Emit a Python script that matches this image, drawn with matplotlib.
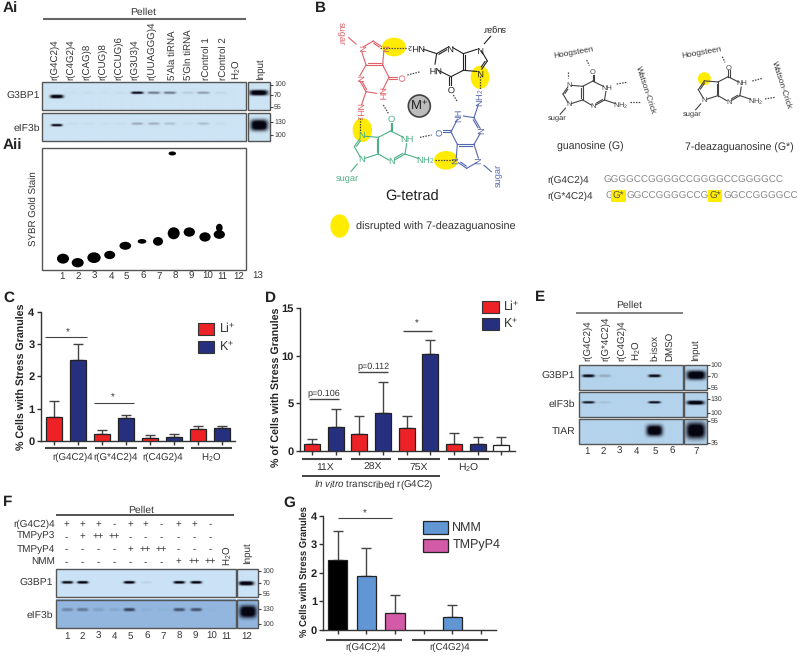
import numpy as np
import matplotlib
matplotlib.use("Agg")
import matplotlib.pyplot as plt
from matplotlib.patches import Ellipse, Rectangle

plt.rcParams['font.family'] = ['Liberation Sans', 'DejaVu Sans']
plt.rcParams['mathtext.fontset'] = 'custom'
plt.rcParams['mathtext.rm'] = 'Liberation Sans'
plt.rcParams['mathtext.it'] = 'Liberation Sans:italic'
plt.rcParams['mathtext.bf'] = 'Liberation Sans:bold'
plt.rcParams['mathtext.default'] = 'regular'
plt.rcParams['text.hinting'] = 'none'

# ---------- data ----------
c_groups = ['r(G4C2)4', 'r(G*4C2)4', 'r(C4G2)4', 'H$_2$O']
c_li = [0.75, 0.22, 0.07, 0.37]
c_li_top = [1.23, 0.33, 0.18, 0.45]
c_k = [2.5, 0.7, 0.12, 0.40]
c_k_top = [3.0, 0.80, 0.20, 0.46]

d_groups = ['11X', '28X', '75X', 'H$_2$O']
d_li = [0.75, 1.8, 2.4, 0.7]
d_li_top = [1.2, 3.7, 3.65, 1.9]
d_k = [2.5, 4.0, 10.2, 0.75]
d_k_top = [4.4, 7.2, 11.6, 1.4]
d_extra = 0.55
d_extra_top = 1.4

g_groups = ['r(G4C2)4', 'r(C4G2)4']
g_vals = [2.45, 1.9, 0.6, 0, 0.45, 0]
g_tops = [3.48, 2.88, 1.23, 0, 0.85, 0]

ai_labels = ['r(G4C2)4', 'r(C4G2)4', 'r(CAG)8', 'r(CUG)8', 'r(CCUG)6', 'r(G3U3)4',
             'r(UUAGGG)4', "5'Ala tiRNA", "5'Gln tiRNA", 'rControl 1', 'rControl 2', 'H$_2$O', 'Input']
ai_g3bp1 = [1.0, .02, .03, .02, .03, .95, .45, .45, .1, .3, .05, 0]
ai_eif3b = [.95, .03, .03, .02, .03, .25, .22, .15, .03, .16, .03, 0]
aii_main = [.905, .938, .897, .875, .80, .764, .764, .698, .688, .728, .708]
aii_upper_lane8 = .047
aii_upper_lane11 = .653
e_labels = ['r(G4C2)4', 'r(G*4C2)4', 'r(C4G2)4', 'H$_2$O', 'b-isox', 'DMSO', 'Input']
e_g3bp1 = [.95, .18, 0, 0, .95, 0]
e_eif3b = [.9, .08, 0, 0, .95, 0]
e_tiar = [0, 0, 0, 0, 1, 0]
f_rows = ['r(G4C2)4', 'TMPyP3', 'TMPyP4', 'NMM']
f_signs = [['+', '+', '+', '-', '+', '+', '-', '+', '+', '-'],
           ['-', '+', '++', '++', '-', '-', '-', '-', '-', '-'],
           ['-', '-', '-', '-', '+', '++', '++', '-', '-', '-'],
           ['-', '-', '-', '-', '-', '-', '-', '+', '++', '++']]
f_g3bp1 = [.95, 1, 0, 0, 1, .06, 0, 1, 1, 0, 0]
f_eif3b = [.25, .33, .12, .08, .6, .04, .03, .52, .52, .02, 0]

RED, NAVY = '#ec2227', '#27307f'
NMM_C, TMP_C = '#5f96d3', '#d25aa6'
TXT = '#333333'
LINE = '#444444'
YEL = '#ffec00'

fig = plt.figure(figsize=(8, 6.57), dpi=100)
W, H = 800, 657
ov = fig.add_axes([0, 0, 1, 1])
ov.set_xlim(0, W); ov.set_ylim(H, 0); ov.axis('off')


def T(x, y, s, size=7, **kw):
    kw.setdefault('ha', 'center'); kw.setdefault('va', 'center'); kw.setdefault('color', TXT)
    return ov.text(x, y, s, fontsize=size, **kw)


def fit_vertical(x, y0, y1, s):
    t = T(x, (y0 + y1) / 2, s, size=8, rotation=90, weight='bold', color='#222222')
    ext = t.get_window_extent(fig.canvas.get_renderer())
    t.set_fontsize(8 * (y1 - y0) / ext.height)


def L(x0, x1, y0, y1=None, lw=1.0, color=LINE, **kw):
    ov.plot([x0, x1], [y0, y0 if y1 is None else y1], color=color, lw=lw, solid_capstyle='butt', **kw)


def gel(x0, x1, y0, y1, bg, bands):
    nx, ny = int((x1 - x0) * 4), int((y1 - y0) * 4)
    xs = np.linspace(x0, x1, nx)[None, :]
    ys = np.linspace(y0, y1, ny)[:, None]
    keep = np.ones((ny, nx))
    for cx, cy, w, h, s in bands:
        g = np.exp(-(np.abs(xs - cx) / (w / 2)) ** 4.0 - (np.abs(ys - cy) / (h / 2)) ** 3.0)
        keep *= 1 - min(s, 1) * np.clip(g * 1.25, 0, 1)
    bgc = np.array(matplotlib.colors.to_rgb(bg))
    img = keep[..., None] * bgc + (1 - keep[..., None]) * np.array([.02, .02, .07])
    ov.imshow(img, extent=(x0, x1, y1, y0), aspect='auto', interpolation='bilinear', zorder=1)
    ov.add_patch(Rectangle((x0, y0), x1 - x0, y1 - y0, fill=False, ec='#555555', lw=1.0, zorder=2))


def ladder(x, items, size=5):
    for y, s in items:
        L(x, x + 3, y, lw=.8, zorder=3)
        T(x + 4, y, s, size=size, ha='left')


def px_axes(left, right, top, bottom):
    ax = fig.add_axes([left / W, 1 - bottom / H, (right - left) / W, (bottom - top) / H])
    ax.patch.set_alpha(0)
    for s in ('top', 'right'):
        ax.spines[s].set_visible(False)
    for s in ('left', 'bottom'):
        ax.spines[s].set_color('#333333'); ax.spines[s].set_linewidth(1.0)
    ax.tick_params(length=3, width=1, color='#333333', labelsize=8, labelcolor='#222222', pad=1.5)
    return ax


def bars(ax, xs, vals, tops, cols, width):
    for x, v, t, c in zip(xs, vals, tops, cols):
        if t <= 0:
            continue
        ax.bar(x, v, width=width, color=c, edgecolor='#222222', lw=.9, zorder=3)
        ax.errorbar(x, v, yerr=[[0], [t - v]], color='#444444', capsize=3.5, lw=1.0, capthick=1.0, zorder=2)


# ---------- panel letters ----------
for x, y, s in [(3, 8, 'Ai'), (3, 145, 'Aii'), (315, 8, 'B'), (3, 298, 'C'), (265, 298, 'D'),
                (535, 297, 'E'), (3, 502, 'F'), (283, 503, 'G')]:
    T(x, y, s, size=11, ha='left', weight='bold', color='#222222')

# ---------- panel Ai / Aii ----------
BG_A = '#cde4f5'
T(143.5, 12.5, 'Pellet', size=7.5)
L(42.5, 246, 19, lw=1.5, color='#666666')
ai_x = [55, 71, 87, 103, 119, 135, 152, 172, 188.5, 206.5, 223.5, 237, 260]
for x, s in zip(ai_x, ai_labels):
    T(x, 80, s, size=7, rotation=90, va='bottom')
lane_a = [57, 73, 89, 105, 121, 137.5, 154, 170, 188, 203.5, 221, 236]
gel(42.3, 246, 82, 110, BG_A, [(x, 92.7 if i else 96.5, 12 if i else 13, 2.4 if i else 3.6, v)
                               for i, (x, v) in enumerate(zip(lane_a, ai_g3bp1))])
gel(248, 269.5, 82, 110, BG_A, [(258.5, 92.7, 18, 5.5, 1)])
gel(42.3, 246, 113, 140.7, BG_A, [(x, 123.5 if i else 125, 11, 2.4, v)
                                  for i, (x, v) in enumerate(zip(lane_a, ai_eif3b))])
gel(248, 269.5, 113, 140.7, BG_A, [(259, 125, 17, 11, 1)])
ladder(270, [(84.5, '100'), (95, '70'), (107, '55')])
ladder(270, [(122, '130'), (135, '100')])
T(40, 96.5, 'G3BP1', size=7.5, ha='right')
T(40, 128, 'eIF3b', size=7.5, ha='right')

AII_TOP, AII_H = 147.7, 122.6
ov.add_patch(Rectangle((42.3, AII_TOP), 203.7, AII_H, fc='white', ec='#555555', lw=1.0, zorder=1))
T(33, 209, 'SYBR Gold Stain', size=7, rotation=90)
aii_x = [63, 77.7, 94, 109.7, 125.3, 142, 158, 173.7, 189.3, 205, 219.3]
aii_w = [12, 12, 13.3, 11, 11.7, 8.7, 10, 12, 11.3, 11.3, 11.3]
aii_h = [10, 9.3, 10.7, 8.3, 8, 4.7, 8.7, 12, 9.3, 9.3, 8.7]
for x, m, w, h in zip(aii_x, aii_main, aii_w, aii_h):
    ov.add_patch(Ellipse((x, AII_TOP + m * AII_H), w, h, fc='black', ec='none', zorder=2))
ov.add_patch(Ellipse((172.3, AII_TOP + aii_upper_lane8 * AII_H), 7.5, 4, fc='black', ec='none', zorder=2))
ov.add_patch(Ellipse((219.3, AII_TOP + aii_upper_lane11 * AII_H), 6.7, 8, fc='black', ec='none', zorder=2))
for i, x in enumerate([62.3, 78, 94.3, 111.7, 126, 143.3, 159.3, 175.3, 191.3, 208, 222.7, 238.7, 258]):
    T(x, 276.7, str(i + 1), size=7)

# ---------- panel B: structures ----------
CX, CY, OX = 298, 318, 320
ATOMS = {'N7': (125, 408), 'C8': (103, 440), 'N9': (125, 478), 'C4': (175, 462), 'C5': (175, 412),
         'C6': (212, 393), 'O': (212, 360), 'N1': (262, 418), 'C2': (255, 462), 'N3': (215, 485),
         'NH2': (315, 482), 'S0': (112, 492), 'S1': (93, 514)}
BONDS = [('N9', 'C8', 0), ('C8', 'N7', 1), ('N7', 'C5', 0), ('C5', 'C4', 1), ('C4', 'N9', 0), ('C5', 'C6', 0),
         ('C6', 'N1', 0), ('N1', 'C2', 0), ('C2', 'N3', 1), ('N3', 'C4', 0), ('C6', 'O', 1), ('C2', 'NH2', 0),
         ('S0', 'S1', 0)]
LABELS = {'N7': 'N', 'N9': 'N', 'O': 'O', 'N1': 'NH', 'N3': 'N', 'NH2': 'NH$_2$'}


def guanine(rot, off, color, scale=1.0, size=6.7, deaza=False, sugar=True, sugar_lw=.8, anchor=None):
    a = np.deg2rad(rot)

    def tr(p):
        dx, dy = (p[0] - 125) * scale, (p[1] - 478) * scale
        bx, by = 125 - CX + dx, 478 - CY + dy
        rx = bx * np.cos(a) + by * np.sin(a)
        ry = -bx * np.sin(a) + by * np.cos(a)
        if anchor is not None:
            rx, ry = dx + anchor[0] - CX, dy + anchor[1] - CY
        return np.array([CX + rx + off[0], CY + ry + off[1]])
    pts = {k: tr(v) for k, v in ATOMS.items()}
    labels = {k: v for k, v in LABELS.items() if k != 'N7'} if deaza else LABELS
    ring6 = np.mean([pts[k] for k in ('C4', 'C5', 'C6', 'N1', 'C2', 'N3')], axis=0)
    ring5 = np.mean([pts[k] for k in ('N7', 'C8', 'N9', 'C4', 'C5')], axis=0)
    xy = lambda v: (OX + v[0] / 3, v[1] / 3)
    for p, q, dbl in BONDS:
        P, Q = pts[p].copy(), pts[q].copy()
        u = (Q - P) / np.linalg.norm(Q - P)
        trim = {'NH2': 22, 'N1': 13}
        if p in labels:
            P += u * trim.get(p, 9) * scale
        if q in labels:
            Q -= u * trim.get(q, 9) * scale
        ov.plot(*zip(xy(P), xy(Q)), color=color, lw=sugar_lw, zorder=4)
        if dbl:
            n = np.array([-u[1], u[0]])
            if p == 'C6':
                A, B = P + n * 5, Q + n * 5
            else:
                ctr = ring5 if {p, q} <= {'C8', 'N7', 'C5', 'C4'} else ring6
                if np.dot(n, ctr - P) < 0:
                    n = -n
                A, B = P + n * 5 * scale + u * 5, Q + n * 5 * scale - u * 5
            ov.plot(*zip(xy(A), xy(B)), color=color, lw=sugar_lw, zorder=4)
    for k, s in labels.items():
        v = pts[k]
        ov.text(OX + v[0] / 3, v[1] / 3, s, fontsize=size, color=color, rotation=rot,
                ha='center', va='center', rotation_mode='anchor', zorder=5)
    if sugar:
        v = tr((82, 537))
        ov.text(OX + v[0] / 3, v[1] / 3, 'sugar', fontsize=size, color=color, rotation=rot,
                ha='center', va='center', rotation_mode='anchor', zorder=5)


for cx, cy, w, h in [(222, 141, 72, 56), (480, 232, 56, 70), (127, 390, 58, 72), (378, 481, 72, 56), (59, 678, 56, 70)]:
    ov.add_patch(Ellipse((OX + cx / 3, cy / 3), w / 3, h / 3, fc=YEL, ec='none', zorder=2))
ov.add_patch(Ellipse((OX + 1153 / 3, 236 / 3), 13, 13, fc=YEL, ec='none', zorder=2))

guanine(0, (0, 0), '#4cae84')
guanine(90, (20, -8), '#5468ae')
guanine(180, (9, -13), '#222222')
guanine(270, (-16, 0), '#df5f68')
ov.add_patch(Ellipse((OX + CX / 3, CY / 3), 22, 22, fc='#bcbcbc', ec='#444444', lw=1.2, zorder=4))
T(OX + CX / 3, CY / 3, 'M$^{+}$', size=9.5, color='#222222', zorder=5)
T(OX + 277 / 3, 590 / 3, 'G-tetrad', size=10.5, color='#222222')
T(OX + 108 / 3, 682 / 3, 'disrupted with 7-deazaguanosine', size=7.8, ha='left')

hb = [(180, 145, 265, 145), (262, 225, 302, 215), (480, 228, 480, 268), (400, 285, 412, 305), (190, 315, 205, 340),
      (120, 355, 120, 400), (300, 412, 335, 405), (345, 481, 410, 481),
      (745, 215, 745, 235), (800, 180, 808, 197), (890, 252, 920, 247), (930, 305, 960, 305),
      (1207, 170, 1215, 187), (1297, 243, 1327, 235), (1335, 297, 1365, 292)]
for a, b, c, d in hb:
    ov.plot([OX + a / 3, OX + c / 3], [b / 3, d / 3], color='#444444', lw=.9, ls=(0, (1.2, 1.0)), zorder=3)

guanine(0, (0, 0), '#444444', scale=.82, size=5.4, sugar=False, anchor=(747, 313))
guanine(0, (0, 0), '#444444', scale=.82, size=5.4, sugar=False, deaza=True, anchor=(1153, 300))
T(OX + 712 / 3, 357 / 3, 'sugar', size=5.4)
T(OX + 1118 / 3, 345 / 3, 'sugar', size=5.4)
T(OX + 760 / 3, 157 / 3, 'Hoogsteen', size=6, rotation=10)
T(OX + 1146 / 3, 157 / 3, 'Hoogsteen', size=6, rotation=10)
T(OX + 977 / 3, 270 / 3, 'Watson-Crick', size=6, rotation=-72)
T(OX + 1385 / 3, 255 / 3, 'Watson-Crick', size=6, rotation=-72)
T(OX + 812 / 3, 441 / 3, 'guanosine (G)', size=7.6)
T(OX + 1258 / 3, 444 / 3, '7-deazaguanosine (G*)', size=7.6)
T(OX + 682 / 3, 541 / 3, 'r(G4C2)4', size=7.2, ha='left')
T(OX + 682 / 3, 588 / 3, 'r(G*4C2)4', size=7.2, ha='left')
SEQ = '#8a8a8a'
T(OX + 850 / 3, 541 / 3, 'GGGGCCGGGGCCGGGGCCGGGGCC', size=7.1, ha='left', color=SEQ)
T(OX + 855 / 3, 589 / 3, 'G', size=7.1, ha='left', color=SEQ)
T(OX + 878 / 3, 589 / 3, 'G*', size=7.1, ha='left', color='#555555', bbox=dict(fc=YEL, ec='none', pad=1.0))
T(OX + 920 / 3, 589 / 3, 'GGCCGGGGCCG', size=7.1, ha='left', color=SEQ)
T(OX + 1168 / 3, 589 / 3, 'G*', size=7.1, ha='left', color='#555555', bbox=dict(fc=YEL, ec='none', pad=1.0))
T(OX + 1210 / 3, 589 / 3, 'GGCCGGGGCC', size=7.1, ha='left', color=SEQ)

# ---------- panel C ----------
axc = px_axes(40.7, 235, 312, 440.7)
xc = np.arange(8)
c_v = [v for p in zip(c_li, c_k) for v in p]
c_t = [v for p in zip(c_li_top, c_k_top) for v in p]
bars(axc, xc, c_v, c_t, [RED, NAVY] * 4, 2 / 3)
axc.set_xlim(-13 / 24, 181.3 / 24)
axc.set_ylim(0, 4)
axc.set_xticks(xc); axc.set_xticklabels([])
axc.set_yticks(range(5))
for t in axc.get_yticklabels():
    t.set_fontweight('bold')
fit_vertical(22, 303, 450, '% Cells with Stress Granules')
for (a, b), s, tx in zip([(45, 87), (94.5, 137), (143, 184), (191, 232)], c_groups, [72.5, 115.7, 163, 211]):
    L(a, b, 447.7, lw=1.5)
    T(tx, 457.7, s, size=7)
L(45, 86.7, 337, lw=.8); T(68, 332.5, '*', size=7)
L(94.3, 134.3, 403, lw=.8); T(113, 398, '*', size=7)
for y, c, s in [(329, RED, 'Li$^{+}$'), (346.5, NAVY, 'K$^{+}$')]:
    ov.add_patch(Rectangle((197.7, y - 6), 16.3, 12, fc=c, ec='#333333', lw=.8))
    T(219, y, s, size=9, ha='left')

# ---------- panel D ----------
axd = px_axes(300, 515, 308, 450.7)
xd = np.arange(9)
d_v = [v for p in zip(d_li, d_k) for v in p] + [d_extra]
d_t = [v for p in zip(d_li_top, d_k_top) for v in p] + [d_extra_top]
bars(axd, xd, d_v, d_t, [RED, NAVY] * 4 + ['white'], 16 / 23.67)
axd.set_xlim(-12 / 23.67, 203 / 23.67)
axd.set_ylim(0, 15)
axd.set_xticks(xd); axd.set_xticklabels([])
axd.set_yticks([0, 5, 10, 15])
for t in axd.get_yticklabels():
    t.set_fontweight('bold')
fit_vertical(277, 308, 467, '% of Cells with Stress Granules')
for (a, b), s, tx in zip([(302.3, 342.3), (350.7, 390.7), (398.3, 440), (447.7, 489.3)], d_groups, [325, 372.3, 419, 468.3]):
    L(a, b, 459, lw=1.5)
    T(tx, 467.7, s, size=7.5)
L(302.3, 440, 476, lw=1.2, color='#222222')
T(373.3, 485, r'$\mathit{In\ vitro}$ transcribed r(G4C2)', size=7)
L(309, 339, 399, lw=1.0); T(324, 394, 'p=0.106', size=6.5)
L(358.3, 388.3, 372.3, lw=1.0); T(373.3, 367.3, 'p=0.112', size=6.5)
L(403.3, 432, 330.7, lw=1.0); T(416.7, 323.5, '*', size=7)
for y, c, s in [(307, RED, 'Li$^{+}$'), (324, NAVY, 'K$^{+}$')]:
    ov.add_patch(Rectangle((481.7, y - 6), 17, 12, fc=c, ec='#333333', lw=.8))
    T(503, y, s, size=9, ha='left')

# ---------- panel E ----------
BG_E = '#b4d3ec'
ex = lambda v: 530 + v / 3
ey = lambda v: 290 + v / 3
T(ex(298), ey(47), 'Pellet', size=7.5)
L(ex(138), ex(458), ey(68), lw=1.3, color='#777777')
for v, s in zip([174, 226, 276, 320, 375, 423, 495], e_labels):
    T(ex(v), ey(213), s, size=7, rotation=90, va='bottom')
e_lane = [ex(v) for v in [175, 224, 270, 320, 373, 425]]
gel(ex(147), ex(458), ey(225), ey(299), BG_E, [(x, ey(257), 12, 2.8, v) for x, v in zip(e_lane, e_g3bp1)])
gel(ex(147), ex(458), ey(307), ey(380), BG_E, [(x, ey(337), 12, 2.2, v) for x, v in zip(e_lane, e_eif3b)])
gel(ex(147), ex(458), ey(388), ey(462), BG_E, [(x, ey(422), 16, 11, v) for x, v in zip(e_lane, e_tiar)])
gel(ex(462), ex(530), ey(225), ey(299), BG_E, [(ex(498), ey(255), 19, 9, 1)])
gel(ex(462), ex(530), ey(307), ey(380), BG_E, [(ex(496), ey(338), 17, 4, 1)])
gel(ex(462), ex(530), ey(388), ey(462), BG_E, [(ex(497), ey(422), 19, 16, 1)])
ladder(ex(530), [(ey(226), '100'), (ey(257), '70'), (ey(294), '55')])
ladder(ex(530), [(ey(328), '130'), (ey(368), '100')])
ladder(ex(530), [(ey(393), '55'), (ey(458), '35')])
for y, s in [(258, 'G3BP1'), (342, 'eIF3b'), (425, 'TIAR')]:
    T(ex(135), ey(y), s, size=7.5, ha='right')
for i, v in enumerate([172, 220, 268, 320, 377, 428, 498]):
    T(ex(v), ey(484), str(i + 1), size=7)

# ---------- panel F ----------
fx = lambda v: v / 3
fy = lambda v: 480 + v / 3
T(fx(424), fy(92), 'Pellet', size=7.5)
L(fx(168), fx(702), fy(105), lw=1.3)
f_cols = [200, 247, 295, 342, 390, 435, 485, 535, 583, 631]
for row, yy, signs in zip(f_rows, [132, 170, 207, 245], f_signs):
    T(fx(165), fy(yy), row, size=7.2, ha='right')
    for v, s in zip(f_cols, signs):
        T(fx(v), fy(yy), s, size=7)
T(fx(682), fy(257), 'H$_2$O', size=7, rotation=90, va='bottom')
T(fx(742), fy(252), 'Input', size=7, rotation=90, va='bottom')
f_lane = [fx(v) for v in [202, 248, 295, 345, 388, 440, 490, 538, 589, 636, 680]]
gel(fx(168), fx(708), fy(266), fy(350), '#cbe3f6', [(x, fy(306), 11, 2.6, v) for x, v in zip(f_lane, f_g3bp1)])
gel(fx(168), fx(708), fy(360), fy(445), '#93b7df', [(x, fy(391), 11, 3.2, v) for x, v in zip(f_lane, f_eif3b)])
gel(fx(712), fx(775), fy(266), fy(350), '#cbe3f6', [(fx(740), fy(309), 15, 4.2, 1)])
gel(fx(712), fx(775), fy(360), fy(445), '#93b7df', [(fx(745), fy(397), 17, 12, 1)])
ladder(fx(775), [(fy(273), '100'), (fy(310), '70'), (fy(342), '55')])
ladder(fx(775), [(fy(386), '130'), (fy(432), '100')])
T(fx(160), fy(311), 'G3BP1', size=7.5, ha='right')
T(fx(160), fy(405), 'eIF3b', size=7.5, ha='right')
for i, v in enumerate([200, 247, 295, 342, 391, 442, 490, 539, 587, 636, 680, 740]):
    T(fx(v), fy(468), str(i + 1), size=7)

# ---------- panel G ----------
axg = px_axes(323.3, 495.7, 515.7, 629.7)
xg = np.arange(6)
bars(axg, xg, g_vals, g_tops, ['black', NMM_C, TMP_C, 'black', NMM_C, TMP_C], 19.3 / 28.67)
axg.set_xlim(-14.4 / 28.67, 158 / 28.67)
axg.set_ylim(0, 4)
axg.set_xticks(xg); axg.set_xticklabels([])
axg.set_yticks(range(5))
for t in axg.get_yticklabels():
    t.set_fontweight('bold')
fit_vertical(304, 506, 638, '% Cells with Stress Granules')
gx = lambda v: 290 + v / 3
gy = lambda v: 490 + v / 3
for (a, b), s, tx in zip([(107, 335), (365, 593)], g_groups, [227, 480]):
    L(gx(a), gx(b), gy(449), lw=1.5)
    T(gx(tx), gy(473), s, size=7)
L(gx(145), gx(307), gy(85), lw=.8); T(gx(223), gy(70), '*', size=7)
for yy, c, s in [(113, NMM_C, 'NMM'), (165, TMP_C, 'TMPyP4')]:
    ov.add_patch(Rectangle((gx(400), gy(yy) - 6.5), 24.5, 13, fc=c, ec='#222222', lw=.9))
    T(gx(487), gy(yy), s, size=9, ha='left')

ov.set_xlim(0, W); ov.set_ylim(H, 0)
fig.savefig('out.png', dpi=100)
